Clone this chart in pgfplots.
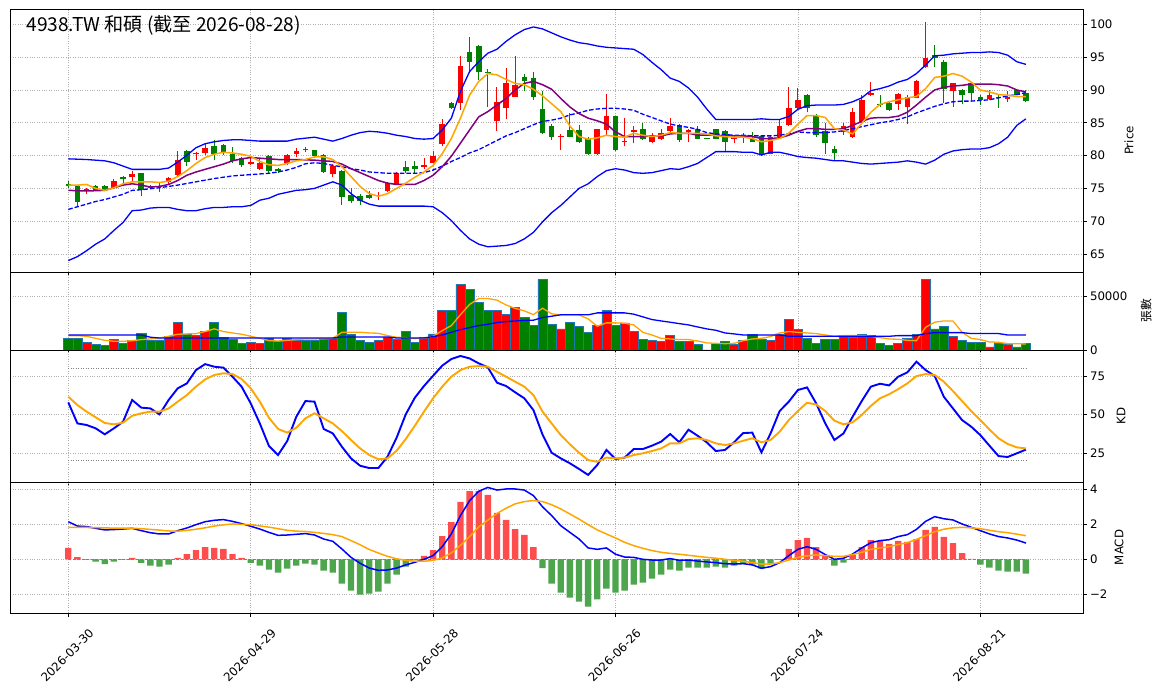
\documentclass[border=0pt]{standalone}
\usepackage{pgfplots}
\pgfplotsset{compat=1.18}
\usepackage{pgfplotstable}
\usepackage{fontspec}
\setmainfont{DejaVu Sans}
\newfontfamily\cjk{Noto Sans CJK TC}
\definecolor{cred}{RGB}{255,0,0}
\definecolor{cgrn}{RGB}{0,128,0}
\definecolor{corange}{RGB}{255,165,0}
\definecolor{cpurple}{RGB}{128,0,128}
\definecolor{cblue}{RGB}{0,0,255}
\definecolor{cedge}{RGB}{31,119,180}
\definecolor{hred}{RGB}{255,77,77}
\definecolor{hgrn}{RGB}{77,166,77}
\definecolor{cgrid}{RGB}{176,176,176}

\pgfplotstableread{
i o h l c v
2 74.6 75.1 74.2 74.95 6900
5 75.1 76.5 74.95 76.2 9700
7 76.8 77.6 76.1 77.2 8700
11 76.0 76.8 75.7 76.6 12500
12 77.1 80.7 76.7 79.4 25600
14 80.2 80.5 79.3 80.4 13400
15 80.4 81.8 80.05 81.1 17200
20 78.7 79.8 78.5 79.0 6900
21 78.0 79.5 77.8 78.9 6500
24 78.8 80.3 78.5 80.05 10600
25 80.2 81.2 79.8 80.7 9400
29 77.2 78.7 76.8 78.4 10900
34 73.8 74.4 73.2 74.0 8700
35 74.6 76.0 74.5 75.8 11500
36 75.7 77.5 75.5 77.3 9700
39 78.3 79.7 78.0 78.5 11500
40 78.9 80.7 78.8 79.9 15000
41 81.8 85.5 81.4 84.8 36800
43 88.0 95.2 87.0 93.7 61200
47 85.2 90.4 83.8 88.2 36800
48 87.2 93.3 85.5 91.1 33100
49 89.0 95.2 88.9 90.8 39900
54 82.9 83.3 80.9 83.0 19700
58 80.2 84.1 80.1 84.0 22800
59 83.9 89.4 83.1 86.0 36800
61 82.0 85.7 81.4 82.2 25300
62 83.6 84.5 81.9 83.9 17200
64 82.0 83.5 81.9 83.2 8700
65 82.5 84.1 82.3 83.5 7800
66 83.8 85.8 83.4 84.5 13400
68 83.6 84.1 82.1 83.9 7800
73 82.5 83.1 81.9 82.8 5000
74 82.9 83.4 81.9 83.2 8700
77 80.3 83.0 80.2 82.8 8700
78 82.8 85.4 82.6 84.5 15000
79 84.7 90.4 84.5 87.2 28400
80 87.2 90.3 87.0 88.4 19000
85 83.6 84.9 83.2 84.5 13400
86 82.8 87.3 82.7 86.6 11500
87 85.1 89.2 85.0 88.4 14400
88 89.2 91.2 89.1 89.6 13400
91 87.8 89.6 87.0 89.4 5900
92 87.4 89.2 84.8 89.0 10900
93 88.8 91.5 88.7 91.3 14400
94 93.5 100.4 93.4 94.8 65800
97 89.9 91.1 87.4 91.0 12500
101 88.6 90.0 88.4 89.3 2800
103 88.6 89.8 88.1 89.0 5000
}\up

\pgfplotstableread{
i o h l c v
0 75.7 76.2 75.0 75.3 10600
1 75.3 75.5 72.3 72.9 10600
3 75.4 75.5 74.6 74.7 5300
4 75.3 75.45 74.6 74.8 4000
6 76.8 76.9 75.7 76.4 6500
8 77.3 77.4 73.8 74.7 15300
9 75.3 75.5 74.9 75.1 8700
10 75.4 75.9 74.5 75.2 9400
13 80.7 80.8 78.4 79.0 14400
16 81.4 82.3 79.3 80.2 25600
17 81.6 81.8 80.05 80.6 11500
18 80.2 81.3 78.8 79.2 9700
19 79.6 79.8 78.3 78.6 6200
22 79.9 80.05 77.3 77.7 10600
23 78.0 78.1 77.3 77.6 8100
26 81.0 81.3 80.5 80.8 8700
27 80.8 80.9 79.6 79.9 8700
28 80.1 80.2 77.4 77.5 10000
30 77.6 77.8 72.5 73.7 35000
31 74.0 75.1 72.8 73.1 14700
32 73.8 74.2 72.5 73.1 8700
33 74.0 74.6 73.4 73.6 6900
37 78.2 79.1 77.3 77.7 17200
38 78.4 79.1 77.2 77.9 6900
42 88.0 88.1 87.1 87.2 36800
44 95.8 98.1 92.7 94.2 56500
45 96.7 96.8 91.5 92.8 44300
46 92.8 93.2 87.4 92.7 36800
50 91.9 92.5 89.8 91.3 30600
51 91.8 92.8 88.5 89.0 22800
52 87.1 89.9 83.3 83.4 65800
53 84.5 84.8 82.4 82.9 23700
55 83.9 86.5 82.8 82.9 25600
56 83.9 84.6 81.9 82.0 21800
57 82.6 82.8 80.1 80.2 16200
60 86.0 86.1 80.7 80.8 22800
63 84.1 85.0 82.3 82.6 9700
67 84.7 84.8 82.1 82.3 7800
69 84.1 84.5 82.5 82.6 5000
70 82.65 82.7 82.5 82.55 0
71 84.0 84.1 82.5 82.6 6500
72 83.7 83.9 80.6 82.1 7800
75 82.5 83.6 82.0 82.1 14400
76 83.0 83.1 79.9 80.1 10300
81 89.3 89.4 86.6 87.3 10900
82 86.0 86.4 82.8 83.2 6500
83 83.8 85.0 80.3 81.9 9700
84 81.0 81.5 79.3 80.4 9700
89 87.9 89.2 87.4 87.8 6500
90 88.0 88.2 86.8 86.9 4000
95 95.3 96.9 93.5 94.8 19700
96 94.3 94.6 88.0 90.2 21800
98 90.0 90.1 87.9 89.2 8700
99 91.0 91.1 88.3 89.6 6900
100 89.0 89.2 87.7 88.4 6900
102 88.9 89.4 87.3 88.7 5900
104 90.0 90.1 89.2 89.3 2800
105 89.6 90.0 88.2 88.3 5900
}\dn

\pgfplotstableread{
i ma5 ma10 mid ub lb vma5 vma20 k d dif dea hist
0 75.5 74.7 71.8 79.5 64.0 13400 14000 58 61.7 2.15 1.82 0.65
1 75.5 74.65 72.2 79.45 64.6 13400 14000 44.3 56.3 1.9 1.83 0.13
2 75.6 74.6 72.6 79.4 65.5 12800 14000 43.3 52 1.87 1.82 -0.02
3 75.0 74.65 73.0 79.3 66.5 10900 14000 41.1 48.3 1.77 1.81 -0.13
4 74.7 74.7 73.3 79.2 67.3 9000 14000 37.2 44.6 1.68 1.80 -0.27
5 75.1 75.1 73.7 78.9 68.6 8100 14000 41.1 43.7 1.7 1.78 -0.13
6 75.7 75.5 74.1 78.4 69.8 8100 14000 45.4 44.8 1.73 1.78 0.01
7 76.0 75.7 74.7 77.9 71.6 8700 14000 59.6 49.3 1.77 1.78 0.08
8 76.0 75.5 74.8 77.9 71.7 9700 14000 54.6 50.9 1.64 1.75 -0.2
9 76.0 75.2 74.95 77.9 72.0 10300 11900 54.1 52 1.52 1.71 -0.36
10 75.9 75.3 75.1 77.9 72.1 11200 11200 50.2 52 1.45 1.67 -0.42
11 76.1 75.6 75.3 78.1 72.1 12800 11200 59.6 54.1 1.45 1.62 -0.3
12 76.8 76.2 75.5 79.0 71.8 14700 11200 67.2 58.5 1.64 1.61 0.08
13 77.7 77.0 75.75 80.05 71.6 15000 11200 70.4 62.8 1.79 1.65 0.3
14 78.8 77.5 76.0 81.2 71.6 15300 11200 79.1 68.3 1.98 1.72 0.53
15 79.7 77.9 76.25 81.8 71.9 17200 11200 83 73 2.15 1.80 0.7
16 80.2 78.3 76.5 82.1 72.1 19700 11200 81.3 75.9 2.23 1.90 0.65
17 80.5 78.7 76.7 82.3 72.1 17200 11200 80.7 77 2.27 1.97 0.59
18 80.4 79.2 76.9 82.4 72.2 15900 11200 74.8 76.5 2.17 2.02 0.3
19 80.2 79.5 77.0 82.4 72.2 14700 11200 68.3 73.3 2.04 2.00 0.08
20 79.9 79.7 77.1 82.3 72.4 12800 11200 57.4 67.2 1.89 1.98 -0.2
21 79.1 79.6 77.2 82.2 73.2 10900 11200 44.3 58.5 1.73 1.91 -0.36
22 78.6 79.5 77.3 82.2 73.5 8700 11200 29.6 48 1.54 1.84 -0.59
23 78.5 79.4 77.5 82.2 74.1 8400 11200 23.7 40.7 1.37 1.75 -0.76
24 78.8 79.4 77.8 82.2 74.4 9000 11200 32.8 38.3 1.39 1.66 -0.53
25 79.2 79.4 78.2 82.5 74.7 9700 11200 48.7 41.5 1.43 1.61 -0.36
26 79.4 79.35 78.75 82.65 74.8 10300 11200 58.9 47.6 1.47 1.59 -0.25
27 79.8 79.3 78.9 82.8 75.0 10300 11200 58.5 50.9 1.39 1.54 -0.3
28 79.8 79.2 78.8 82.5 75.5 10600 11200 40.7 47.6 1.16 1.48 -0.65
29 79.4 79.1 78.5 82.2 76.0 10900 11200 37.8 44.3 1.03 1.41 -0.76
30 78.3 78.7 78.3 82.6 75.5 16500 12200 29.1 39.3 0.59 1.3 -1.39
31 76.8 78.0 78.0 83.1 74.2 16500 12200 21.5 33.5 0.11 1.07 -1.79
32 75.3 77.4 77.8 83.5 73.2 16500 12200 16.7 28 -0.23 0.83 -2.02
33 74.2 76.8 77.5 83.7 72.6 15900 12200 15.2 23.7 -0.5 0.56 -1.96
34 73.8 76.2 77.4 83.6 72.3 15600 12200 15.2 20.9 -0.63 0.36 -1.85
35 74.2 75.8 77.3 83.4 72.3 13400 12200 22.6 21.5 -0.61 0.17 -1.39
36 75.0 75.6 77.3 83.1 72.3 11900 11200 35 26.5 -0.5 0.03 -0.88
37 75.8 75.6 77.3 82.9 72.3 11500 11200 50.2 34.1 -0.32 -0.06 -0.42
38 76.7 75.6 77.3 82.6 72.3 10600 11200 61.1 42.8 -0.17 -0.11 -0.05
39 77.5 76.2 77.4 82.5 72.3 10900 11200 68.7 52 0.0 -0.11 0.19
40 78.5 77.0 77.8 82.6 72.2 12800 12500 75.4 60.7 0.21 -0.06 0.53
41 80.3 78.3 78.4 83.9 71.3 18100 14000 82 68.3 0.72 0.08 1.33
42 82.6 79.9 79.1 85.7 70.1 22800 16500 86.3 74.8 1.45 0.37 2.13
43 85.7 81.9 79.7 89.8 68.6 33000 19000 88.3 79.1 2.5 0.8 3.28
44 89.2 83.9 80.4 92.8 67.3 42500 20900 86.7 81.3 3.35 1.3 3.9
45 91.3 85.9 80.9 94.3 66.5 48000 22800 83.5 81.7 3.89 1.85 3.9
46 92.5 86.7 81.6 95.6 66.1 48000 24000 80.9 81.3 4.11 2.24 3.68
47 92.3 87.7 82.3 96.2 66.2 46500 25600 70.9 78 3.96 2.62 2.65
48 91.6 88.7 83.0 97.4 66.3 42000 26500 68.7 74.8 4.02 2.92 2.25
49 91.0 90.0 83.5 98.4 66.6 38800 27100 64.6 71.5 4.02 3.17 1.73
50 90.8 91.0 84.1 99.2 67.3 36500 27500 60.7 68.3 3.96 3.3 1.39
51 90.1 91.3 84.7 99.6 68.3 33000 27800 53 62.8 3.64 3.36 0.7
52 89.1 90.8 85.2 99.3 69.9 39000 30300 37 52 3.0 3.3 -0.5
53 87.9 90.1 85.4 98.7 71.3 33700 31500 25.2 44.3 2.5 3.12 -1.39
54 86.7 88.7 85.7 98.1 72.4 32800 32800 21.5 36.7 1.92 2.88 -1.9
55 84.5 87.4 86.2 97.6 73.7 32800 32800 18.3 30.7 1.54 2.59 -2.19
56 82.9 86.4 86.5 97.2 75.0 32800 32800 14.6 25.2 1.16 2.3 -2.42
57 82.5 85.7 86.9 97.0 75.7 29000 32800 10.7 20.4 0.65 1.98 -2.7
58 82.7 85.3 87.1 96.7 76.8 22200 34600 17.2 19.3 0.57 1.68 -2.29
59 83.1 84.8 87.2 96.5 77.7 25300 34600 27 22 0.65 1.45 -1.68
60 82.9 83.6 87.2 96.4 78.0 25300 34600 21.1 21.5 0.29 1.22 -1.9
61 82.8 82.9 87.1 96.3 77.8 25000 34600 22 22 0.13 0.97 -1.79
62 83.4 82.9 86.9 96.2 77.4 23400 33400 27.6 23.7 0.11 0.78 -1.45
63 83.1 82.9 86.3 95.4 77.3 16500 30900 27.6 24.8 0.0 0.63 -1.33
64 82.9 83.0 85.8 94.2 77.4 14000 28400 29.8 26.3 -0.04 0.5 -1.1
65 83.1 83.0 85.3 93.1 77.7 10900 27100 32.4 28 -0.04 0.4 -0.88
66 83.5 83.3 84.8 91.8 78.0 10300 25900 37.4 31.3 0.04 0.34 -0.59
67 83.4 83.4 84.5 91.3 77.9 9700 24600 32 31.3 -0.06 0.29 -0.65
68 83.4 83.4 84.3 90.3 78.3 9700 23400 40.2 34.1 -0.04 0.23 -0.48
69 83.4 83.1 84.0 88.9 78.8 8400 21500 36.3 34.6 -0.1 0.17 -0.48
70 83.3 83.1 83.5 87.1 79.7 6600 19700 32 33.5 -0.15 0.11 -0.48
71 83.0 83.1 83.3 85.5 80.6 6200 18400 26.3 31.3 -0.19 0.06 -0.42
72 82.9 83.0 83.2 85.5 80.6 5900 15900 27 30.2 -0.25 0.0 -0.48
73 82.8 83.0 83.1 85.5 80.6 6200 15000 32 31.3 -0.27 -0.06 -0.36
74 82.8 83.0 83.1 85.5 80.5 8700 14000 38 33 -0.25 -0.11 -0.25
75 82.6 82.9 83.0 85.5 80.5 10300 14000 38.3 34.6 -0.32 -0.19 -0.3
76 82.1 82.6 83.0 85.6 80.1 10900 14000 25.4 32 -0.51 -0.27 -0.53
77 82.3 82.6 83.0 85.5 80.5 12500 14000 37.8 33.5 -0.42 -0.27 -0.25
78 82.6 82.7 83.1 85.5 80.5 15900 14000 52.4 38.9 -0.19 -0.19 -0.03
79 83.4 83.1 83.35 85.95 80.2 17200 12800 58.5 46.5 0.21 -0.04 0.59
80 84.8 83.7 83.6 87.05 79.85 16500 12800 66.1 52.4 0.57 0.11 1.1
81 86.1 84.1 83.5 87.6 79.7 15900 12800 67.8 57.8 0.72 0.2 1.22
82 86.1 84.1 83.5 87.7 79.6 15300 12800 57.4 56.7 0.57 0.25 0.7
83 85.8 84.0 83.5 87.7 79.4 14000 12800 44.3 52.4 0.27 0.21 0.25
84 84.1 84.0 83.6 87.7 79.2 12800 12800 33.5 46.1 0.0 0.17 -0.36
85 83.9 84.1 83.8 87.8 79.2 13400 12800 37.8 43.7 0.06 0.17 -0.19
86 83.3 84.6 84.1 88.2 79.0 13400 12800 48.7 45 0.3 0.27 0.25
87 84.9 85.2 84.4 88.8 78.8 13400 12800 58.9 49.8 0.65 0.4 0.7
88 86.6 85.7 84.7 89.9 78.7 12800 12800 68.3 55.7 0.95 0.57 1.1
89 87.8 85.8 85.0 90.2 78.8 11500 12800 70.2 60.7 1.07 0.65 1.05
90 88.2 85.8 85.2 90.6 78.9 10300 12800 69.1 63.3 1.12 0.72 0.88
91 88.5 86.0 85.5 91.2 79.0 10000 13400 74.8 66.7 1.3 0.84 1.05
92 88.8 86.6 85.9 91.6 79.2 9000 13400 77.6 70.4 1.41 0.95 0.99
93 89.0 87.7 86.5 92.5 79.0 8700 13400 84.6 75.2 1.71 1.14 1.16
94 90.2 88.9 87.0 93.8 78.7 21200 15300 79.1 76.5 2.17 1.35 1.68
95 91.9 90.0 87.5 95.2 79.3 25900 16200 75.2 75.9 2.44 1.58 1.85
96 92.1 90.4 87.9 95.3 80.2 27100 16200 61.7 71.5 2.32 1.72 1.28
97 92.5 90.6 88.2 95.5 80.7 27100 16200 54.1 65.4 2.25 1.8 0.93
98 92.1 90.7 88.3 95.6 80.9 16500 16200 46.5 58.9 2.02 1.83 0.36
99 91.2 90.9 88.3 95.7 81.0 10900 15300 42.2 52.4 1.83 1.8 0.02
100 90.0 90.9 88.4 95.7 81.0 9700 15300 36.7 46.5 1.64 1.75 -0.3
101 89.7 90.9 88.5 95.8 81.2 7500 15300 29.8 40.4 1.45 1.66 -0.48
102 89.3 90.8 88.8 95.7 81.8 7200 15300 23 34.6 1.3 1.58 -0.65
103 89.2 90.6 89.1 95.3 82.8 5900 14000 22.4 30.9 1.22 1.52 -0.7
104 89.0 90.0 89.3 94.3 84.6 5900 14000 24.8 28.7 1.1 1.44 -0.7
105 89.0 89.7 89.6 93.9 85.6 5600 14000 27.2 28 0.93 1.35 -0.82
}\main

\pgfplotsset{panel/.style={
  scale only axis, width=1072.7bp, xmin=-6.36, xmax=111.26,
  axis line style={line width=0.8bp, black},
  tick align=outside, major tick length=3.5bp,
  tick style={line width=0.8bp, black},
  xtick={0,20,40,60,80,100}, xtick pos=bottom,
  ytick pos=right, yticklabel pos=right,
  grid=major,
  grid style={cgrid, line width=0.6bp, dash pattern=on 0.8bp off 1.6bp},
  tick label style={font=\fontsize{11.8}{14}\selectfont},
  label style={font=\fontsize{11.8}{14}\selectfont},
  /pgf/number format/assume math mode=true,
  /pgf/number format/1000 sep={},
  scaled y ticks=false,
  anchor=south west,
},
candle/.style 2 args={draw=none, mark=none, forget plot,
  error bars/.cd, y dir=plus, y explicit, error mark=none,
  error bar style={draw=#1, line width=#2, line cap=butt, solid},
  /pgfplots/.cd},
}

\begin{document}
\begin{tikzpicture}
\path[use as bounding box] (0,0) rectangle (1163bp,698bp);

% ---------------- price ----------------
\begin{axis}[panel, at={(10.3bp,426bp)}, height=262.7bp,
  ymin=62.26, ymax=102.29, ytick={65,70,...,100}, xticklabels={},
  ylabel={Price}, ylabel style={at={(axis description cs:1.0429,0.5)}, anchor=center},
  title={\cjk 4938.TW 和碩 (截至 2026-08-28)},
  title style={at={(axis description cs:0.0149,0.8934)}, anchor=base west, inner sep=0pt, font=\fontsize{19.2}{22}\selectfont}]
% wicks
\addplot[candle={cred}{0.9bp}]
  table[x=i, y=l, y error plus expr={\thisrow{h}-\thisrow{l}}] {\up};
\addplot[candle={cgrn}{0.9bp}]
  table[x=i, y=l, y error plus expr={\thisrow{h}-\thisrow{l}}] {\dn};
% bodies
\addplot[candle={cred}{5.6bp}]
  table[x=i, y=o, y error plus expr={\thisrow{c}-\thisrow{o}}] {\up};
\addplot[candle={cgrn}{5.6bp}]
  table[x=i, y=c, y error plus expr={\thisrow{o}-\thisrow{c}}] {\dn};
% lines
\addplot[cblue, line width=1.3bp] table[x=i, y=ub] {\main};
\addplot[cblue, line width=1.3bp] table[x=i, y=lb] {\main};
\addplot[cblue, line width=1.3bp, dash pattern=on 4.5bp off 2bp] table[x=i, y=mid] {\main};
\addplot[cpurple, line width=1.5bp] table[x=i, y=ma10] {\main};
\addplot[corange, line width=1.5bp] table[x=i, y=ma5] {\main};
\end{axis}

% ---------------- volume ----------------
\begin{axis}[panel, at={(10.3bp,348bp)}, height=78bp,
  ymin=0, ymax=72750, ytick={0,50000}, xticklabels={},
  ylabel={\cjk 張數}, ylabel style={at={(axis description cs:1.0588,0.5)}, anchor=center}]
\addplot[ybar, bar width=1, bar shift=0pt, fill=cred, draw=cedge, line width=0.6bp] table[x=i, y=v] {\up};
\addplot[ybar, bar width=1, bar shift=0pt, fill=cgrn, draw=cedge, line width=0.6bp] table[x=i, y=v] {\dn};
\addplot[corange, line width=1.3bp] table[x=i, y=vma5] {\main};
\addplot[cblue, line width=1.3bp] table[x=i, y=vma20] {\main};
\end{axis}

% ---------------- KD ----------------
\begin{axis}[panel, at={(10.3bp,216bp)}, height=132bp,
  ymin=6.1, ymax=92.2, ytick={25,50,75}, xticklabels={},
  ylabel={KD}, ylabel style={at={(axis description cs:1.0354,0.5)}, anchor=center}]
\addplot[gray, line width=0.8bp, dash pattern=on 1bp off 1.5bp] coordinates {(0,80) (105,80)};
\addplot[gray, line width=0.8bp, dash pattern=on 1bp off 1.5bp] coordinates {(0,20) (105,20)};
\addplot[cblue, line width=1.9bp] table[x=i, y=k] {\main};
\addplot[corange, line width=1.9bp] table[x=i, y=d] {\main};
\end{axis}

% ---------------- MACD ----------------
\begin{axis}[panel, at={(10.3bp,85bp)}, height=131bp,
  ymin=-3.07, ymax=4.42, ytick={-2,0,2,4}, yticklabels={−2,0,2,4},
  xticklabels={2026-03-30,2026-04-29,2026-05-28,2026-06-26,2026-07-24,2026-08-21},
  xticklabel style={anchor=center, yshift=-39bp, xshift=-1bp, rotate=45},
  ylabel={MACD}, ylabel style={at={(axis description cs:1.0336,0.5)}, anchor=center}]
\addplot[gray, line width=0.8bp, dash pattern=on 3bp off 1.5bp] coordinates {(0,0) (105,0)};
\addplot[ybar, bar width=0.7, bar shift=0pt, fill=hred, draw=none, restrict y to domain=0:10] table[x=i, y=hist] {\main};
\addplot[ybar, bar width=0.7, bar shift=0pt, fill=hgrn, draw=none, restrict y to domain=-10:0] table[x=i, y=hist] {\main};
\addplot[cblue, line width=1.5bp] table[x=i, y=dif] {\main};
\addplot[corange, line width=1.5bp] table[x=i, y=dea] {\main};
\end{axis}
\end{tikzpicture}
\end{document}
